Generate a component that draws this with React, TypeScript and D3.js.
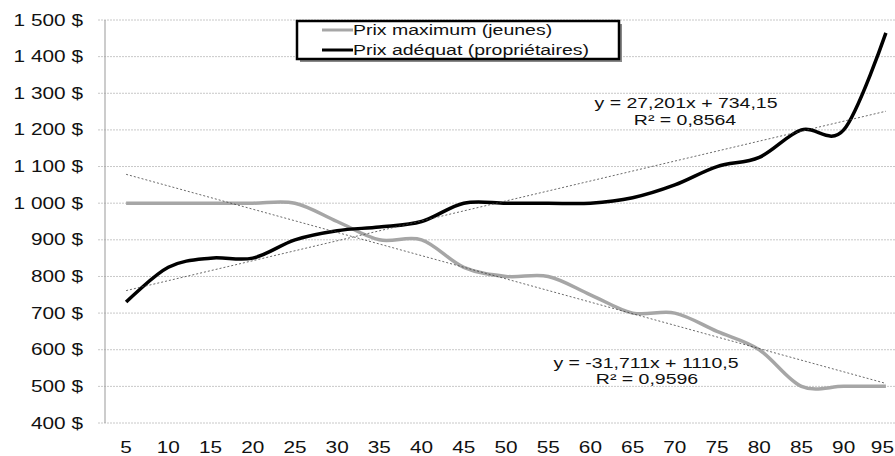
import React from "react";
import * as d3 from "d3";

const categories = [5, 10, 15, 20, 25, 30, 35, 40, 45, 50, 55, 60, 65, 70, 75, 80, 85, 90, 95];
const prixMaximum = [1000, 1000, 1000, 1000, 1000, 950, 900, 900, 825, 800, 800, 750, 700, 700, 650, 600, 500, 500, 500];
const prixAdequat = [730, 825, 850, 850, 900, 925, 935, 950, 1000, 1000, 1000, 1000, 1015, 1050, 1100, 1125, 1200, 1200, 1465];
const yTicks = [400, 500, 600, 700, 800, 900, 1000, 1100, 1200, 1300, 1400, 1500];
const seriesNames = ["Prix maximum (jeunes)", "Prix adéquat (propriétaires)"];
const trendMax = { slope: -31.711, intercept: 1110.5, eq: "y = -31,711x + 1110,5", r2: "R² = 0,9596" };
const trendAdq = { slope: 27.201, intercept: 734.15, eq: "y = 27,201x + 734,15", r2: "R² = 0,8564" };

const W = 895, H = 456;
const FONT = "'Liberation Sans', Arial, sans-serif";
const SX = 1.3;

function T({ x, y, anchor = "start", size = 15, children }: any) {
  return (
    <text transform={`translate(${x},${y}) scale(${SX},1)`} textAnchor={anchor} fontSize={size} fontFamily={FONT} fill="#111">
      {children}
    </text>
  );
}

export default function App() {
  const left = 105, right = 907, top = 20, bottom = 423;
  const x = d3.scalePoint<number>().domain(categories).range([left, right]).padding(0.5);
  const y = d3.scaleLinear().domain([400, 1500]).range([bottom, top]);
  const line = d3
    .line<number>()
    .x((_, i) => x(categories[i]) as number)
    .y((d) => y(d))
    .curve(d3.curveCardinal.tension(0));
  const trend = (t: any) => {
    const n = categories.length;
    return [
      [x(categories[0]) as number, y(t.slope * 1 + t.intercept)],
      [x(categories[n - 1]) as number, y(t.slope * n + t.intercept)],
    ];
  };
  const tm = trend(trendMax);
  const ta = trend(trendAdq);
  const gray = "#a6a6a6";

  return (
    <svg width={W} height={H} style={{ position: "absolute", left: 0, top: 0, background: "#fff" }}>
      <rect x={0} y={0} width={W} height={H} fill="#fff" />
      {yTicks.map((t) => (
        <g key={t}>
          <line x1={98} x2={W} y1={y(t)} y2={y(t)} stroke="#c8c8c8" strokeWidth={1} strokeDasharray="2,1" />
          <T x={83} y={y(t) + 5.5} anchor="end" size={16}>
            {d3.format(",")(t).replace(",", " ") + " $"}
          </T>
        </g>
      ))}
      <line x1={left} x2={left} y1={top} y2={bottom} stroke="#999" strokeWidth={1} />
      {categories.map((c, i) => {
        const cx = x(c) as number;
        const last = i === categories.length - 1;
        return (
          <T key={c} x={last ? Math.min(cx + 12, W - 1) : cx} y={453} anchor={last ? "end" : "middle"} size={16}>
            {c}
          </T>
        );
      })}
      <path d={line(prixMaximum) || ""} fill="none" stroke={gray} strokeWidth={3.5} strokeLinejoin="round" />
      <path d={line(prixAdequat) || ""} fill="none" stroke="#000" strokeWidth={3.5} strokeLinejoin="round" />
      <line x1={tm[0][0]} y1={tm[0][1]} x2={tm[1][0]} y2={tm[1][1]} stroke="#444" strokeWidth={0.8} strokeDasharray="2,2" />
      <line x1={ta[0][0]} y1={ta[0][1]} x2={ta[1][0]} y2={ta[1][1]} stroke="#444" strokeWidth={0.8} strokeDasharray="2,2" />
      <T x={686} y={108} anchor="middle" size={15}>{trendAdq.eq}</T>
      <T x={685} y={125} anchor="middle" size={15}>{trendAdq.r2}</T>
      <T x={646} y={368} anchor="middle" size={15}>{trendMax.eq}</T>
      <T x={647} y={384} anchor="middle" size={15}>{trendMax.r2}</T>
      <g>
        <rect x={300} y={24} width={322} height={38} fill="#888" />
        <rect x={297} y={21} width={322} height={38} fill="#fff" stroke="#000" strokeWidth={2.5} />
        <line x1={322} x2={353} y1={30} y2={30} stroke={gray} strokeWidth={3} />
        <T x={353} y={35} size={15}>{seriesNames[0]}</T>
        <line x1={322} x2={353} y1={50} y2={50} stroke="#000" strokeWidth={3} />
        <T x={353} y={55} size={15}>{seriesNames[1]}</T>
      </g>
    </svg>
  );
}
